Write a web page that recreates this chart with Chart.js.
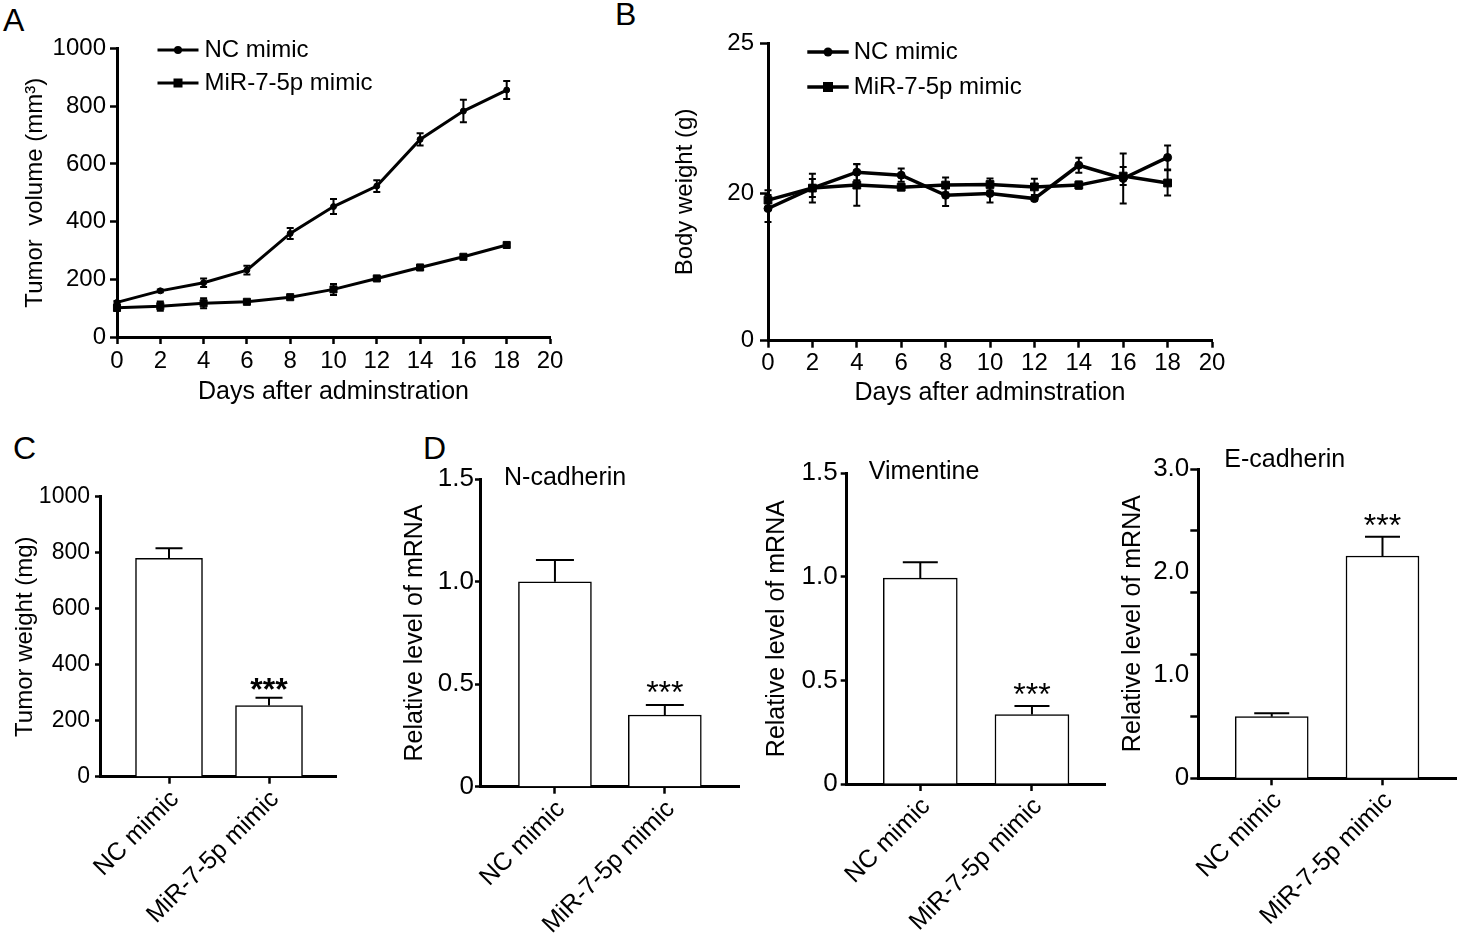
<!DOCTYPE html>
<html><head><meta charset="utf-8">
<script src="https://cdn.jsdelivr.net/npm/chart.js@4.4.1/dist/chart.umd.min.js"></script>
<style>
html,body{margin:0;padding:0;background:#fff;}
body{width:1459px;height:933px;position:relative;overflow:hidden;font-family:"Liberation Sans",Arial,sans-serif;}
.panel{position:absolute;}
.panel canvas{display:block;}
.letter{position:absolute;font-size:32px;line-height:32px;color:#000;}
</style></head><body>
<div class="letter" style="left:3px;top:4px">A</div>
<div class="letter" style="left:615px;top:-2px">B</div>
<div class="letter" style="left:13px;top:432px">C</div>
<div class="letter" style="left:423px;top:432px">D</div>

<div class="panel" style="left:0px;top:0px;width:580px;height:415px"><canvas id="cA" width="580" height="415"></canvas></div>
<div class="panel" style="left:600px;top:0px;width:640px;height:415px"><canvas id="cB" width="640" height="415"></canvas></div>
<div class="panel" style="left:0px;top:420px;width:370px;height:513px"><canvas id="cC" width="370" height="513"></canvas></div>
<div class="panel" style="left:375px;top:420px;width:380px;height:513px"><canvas id="cD1" width="380" height="513"></canvas></div>
<div class="panel" style="left:755px;top:420px;width:365px;height:513px"><canvas id="cD2" width="365" height="513"></canvas></div>
<div class="panel" style="left:1100px;top:420px;width:359px;height:513px"><canvas id="cD3" width="359" height="513"></canvas></div>

<script>
// ---------------- data ----------------
const days = [0, 2, 4, 6, 8, 10, 12, 14, 16, 18];
const seriesNames = ['NC mimic', 'MiR-7-5p mimic'];
const groups = ['NC mimic', 'MiR-7-5p mimic'];

// A: tumor volume (mm3)
const ncVolume     = [120, 160, 188, 232, 359, 452, 523, 685, 783, 856];
const ncVolumeErr  = [5, 5, 15, 15, 19, 26, 20, 21, 39, 31];
const mirVolume    = [101, 107, 117, 122, 138, 165, 203, 241, 278, 319];
const mirVolumeErr = [10, 16, 17, 5, 5, 19, 6, 6, 6, 6];
const volumeTicks  = [0, 200, 400, 600, 800, 1000];

// B: body weight (g)
const ncWeight     = [19.5, 20.18, 20.71, 20.61, 19.94, 20.0, 19.83, 20.94, 20.5, 21.2];
const ncWeightErr  = [0.45, 0.48, 0.27, 0.22, 0.36, 0.3, 0.06, 0.25, 0.83, 0.4];
const mirWeight    = [19.78, 20.18, 20.28, 20.21, 20.28, 20.3, 20.22, 20.28, 20.58, 20.35];
const mirWeightErr = [0.33, 0.3, 0.69, 0.1, 0.25, 0.2, 0.27, 0.12, 0.3, 0.42];
const weightTickValues = [15.1, 20, 25];
const weightTickLabels = ['0', '20', '25'];

// C: tumor weight (mg)
const tumorWeight    = [780, 254];
const tumorWeightErr = [36, 28];
const tumorWeightSig = ['', '***'];

// D: relative mRNA levels
const nCadherin     = [1.0, 0.35];
const nCadherinErr  = [0.106, 0.049];
const nCadherinSig  = ['', '***'];
const vimentin      = [0.994, 0.335];
const vimentinErr   = [0.076, 0.042];
const vimentinSig   = ['', '***'];
const eCadherin     = [0.598, 2.156];
const eCadherinErr  = [0.032, 0.188];
const eCadherinSig  = ['', '***'];
const mrnaTicks = [0, 0.5, 1.0, 1.5];
const eCadTickValues = [0, 0.6, 1.0, 1.2, 1.8, 2.0, 2.4, 3.0];
const eCadTickLabels = {0: '0', 1: '1.0', 2: '2.0', 3: '3.0'};
const eCadMarkedTicks = [0, 0.6, 1.2, 1.8, 2.4, 3.0];

// ---------------- rendering ----------------
const FONT = "'Liberation Sans', Arial, sans-serif";
const BLACK = '#000';

const figPlugin = {
  id: 'fig',
  afterDatasetsDraw(chart, args, o) {
    const ctx = chart.ctx, ca = chart.chartArea;
    const xs = chart.scales.x, ys = chart.scales.y;
    ctx.save();
    chart.data.datasets.forEach(ds => {
      if (!ds.errors) return;
      ds.data.forEach((p, i) => {
        const e = ds.errors[i];
        const x = xs.getPixelForValue(p.x);
        const yT = ys.getPixelForValue(p.y + e);
        const yM = ys.getPixelForValue(p.y);
        const yB = o.upOnly ? yM : ys.getPixelForValue(p.y - e);
        const c = o.cap / 2;
        ctx.strokeStyle = BLACK; ctx.lineWidth = o.errWidth;
        ctx.beginPath();
        ctx.moveTo(x, yB); ctx.lineTo(x, yT);
        ctx.moveTo(x - c, yT); ctx.lineTo(x + c, yT);
        if (!o.upOnly) { ctx.moveTo(x - c, yB); ctx.lineTo(x + c, yB); }
        ctx.stroke();
        if (ds.stars && ds.stars[i]) {
          ctx.fillStyle = BLACK; ctx.font = o.starFont;
          ctx.textAlign = 'center'; ctx.textBaseline = 'alphabetic';
          ctx.fillText(ds.stars[i], x, yT + o.starShift);
        }
      });
    });
    if (o.legend) {
      const L = o.legend;
      chart.data.datasets.forEach((ds, i) => {
        const y = ca.top + L.y + i * L.dy;
        const x0 = ca.left + L.x, x1 = x0 + L.len, xm = (x0 + x1) / 2;
        ctx.strokeStyle = BLACK; ctx.lineWidth = ds.borderWidth;
        ctx.beginPath(); ctx.moveTo(x0, y); ctx.lineTo(x1, y); ctx.stroke();
        ctx.fillStyle = BLACK;
        if (ds.pointStyle === 'rect') {
          const s = L.square; ctx.fillRect(xm - s / 2, y - s / 2, s, s);
        } else {
          ctx.beginPath(); ctx.arc(xm, y, L.circle, 0, Math.PI * 2); ctx.fill();
        }
        ctx.font = L.font; ctx.textAlign = 'left'; ctx.textBaseline = 'middle';
        ctx.fillText(ds.label, x1 + L.gap, y);
      });
    }
    if (o.title) {
      const T = o.title;
      ctx.fillStyle = BLACK; ctx.font = T.font; ctx.textAlign = 'left'; ctx.textBaseline = 'middle';
      ctx.fillText(T.text, ca.left + T.dx, ca.top + T.dy);
    }
    ctx.restore();
  }
};

function yAxis(o) {
  return {
    type: 'linear', position: 'left', min: o.min, max: o.max,
    border: { display: true, color: BLACK, width: 3 },
    grid: { display: true, drawOnChartArea: false, drawTicks: true, offset: false, tickLength: o.tl, tickWidth: 2.5, color: BLACK, tickColor: o.tickColor || BLACK },
    ticks: Object.assign({ color: BLACK, font: { family: FONT, size: o.fs }, padding: o.pad, callback: v => String(v) }, o.ticks || {}),
    afterBuildTicks: o.afterBuildTicks,
    title: { display: true, text: o.title, color: BLACK, font: { family: FONT, size: o.tfs }, padding: { top: o.tpad, bottom: 0 } },
    afterFit: s => { s.width = o.w; }
  };
}

function lineChart(id, o) {
  const mk = (name, vals, errs, style, radius) => ({
    label: name,
    data: days.map((d, i) => ({ x: d, y: vals[i] })),
    errors: errs,
    borderColor: BLACK, backgroundColor: BLACK, borderWidth: o.lw,
    pointStyle: style, pointRadius: radius, pointBackgroundColor: BLACK, pointBorderColor: BLACK, pointBorderWidth: 1,
    tension: 0, clip: false
  });
  return new Chart(document.getElementById(id), {
    type: 'line',
    data: { datasets: [
      mk(seriesNames[0], o.nc, o.ncErr, 'circle', o.cr),
      mk(seriesNames[1], o.mir, o.mirErr, 'rect', o.rr)
    ] },
    options: {
      responsive: false, animation: false, events: [],
      layout: { padding: { left: 0, top: o.top, right: o.right, bottom: 0 } },
      plugins: { legend: { display: false }, tooltip: { enabled: false },
        fig: { cap: 7, errWidth: 2, upOnly: false, legend: o.legend } },
      scales: {
        x: {
          type: 'linear', position: 'bottom', min: 0, max: 20,
          border: { display: true, color: BLACK, width: 3 },
          grid: { display: true, drawOnChartArea: false, drawTicks: true, offset: false, tickLength: 7, tickWidth: 2.5, color: BLACK },
          ticks: { stepSize: 2, maxRotation: 0, autoSkip: false, color: BLACK, font: { family: FONT, size: 24 }, padding: o.xpad, callback: v => String(v) },
          title: { display: true, text: 'Days after adminstration', color: BLACK, font: { family: FONT, size: 25 }, padding: { top: 0, bottom: o.xtpad } },
          afterFit: s => { s.height = o.xh; }
        },
        y: o.y
      }
    },
    plugins: [figPlugin]
  });
}

function barChart(id, o) {
  return new Chart(document.getElementById(id), {
    type: 'bar',
    data: { datasets: [{
      label: o.name,
      data: o.values.map((v, i) => ({ x: i + 1, y: v })),
      errors: o.errors, stars: o.stars,
      backgroundColor: '#fff', borderColor: BLACK, borderWidth: 1.5, borderSkipped: 'start',
      barThickness: o.barW
    }] },
    options: {
      responsive: false, animation: false, events: [],
      layout: { padding: { left: 0, top: o.top, right: o.right, bottom: 0 } },
      plugins: { legend: { display: false }, tooltip: { enabled: false },
        fig: { cap: o.cap, errWidth: 2, upOnly: true, starFont: o.starFont, starShift: o.starShift, title: o.title } },
      scales: {
        x: {
          type: 'linear', position: 'bottom', min: o.xMin, max: o.xMax, offset: false,
          border: { display: true, color: BLACK, width: 3 },
          grid: { display: true, drawOnChartArea: false, drawTicks: true, offset: false, tickLength: 7, tickWidth: 2.5, color: BLACK },
          afterBuildTicks: s => { s.ticks = groups.map((g, i) => ({ value: i + 1 })); },
          ticks: { autoSkip: false, minRotation: 45, maxRotation: 45, color: BLACK, font: { family: FONT, size: 25 },
            padding: 1, labelOffset: 6, callback: v => groups[v - 1] },
          afterFit: s => { s.height = o.xh; }
        },
        y: o.y
      }
    },
    plugins: [figPlugin]
  });
}

// Panel A
lineChart('cA', {
  nc: ncVolume, ncErr: ncVolumeErr, mir: mirVolume, mirErr: mirVolumeErr,
  lw: 3, cr: 3, rr: 5, top: 48.5, right: 30, xh: 78, xpad: 3, xtpad: 8,
  legend: { x: 40.5, y: 1.5, dy: 33, len: 41, gap: 6, font: '24px ' + FONT, circle: 4, square: 9 },
  y: yAxis({ min: 0, max: 1000, w: 117, tl: 7, pad: 4, fs: 24, title: 'Tumor  volume (mm³)', tfs: 24, tpad: 21,
    afterBuildTicks: s => { s.ticks = volumeTicks.map(v => ({ value: v })); } })
});

// Panel B
lineChart('cB', {
  nc: ncWeight, ncErr: ncWeightErr, mir: mirWeight, mirErr: mirWeightErr,
  lw: 3.5, cr: 4, rr: 5.5, top: 43.3, right: 28, xh: 74.3, xpad: 1.5, xtpad: 7,
  legend: { x: 39.3, y: 8.7, dy: 35, len: 41.4, gap: 5, font: '24px ' + FONT, circle: 4.5, square: 10 },
  y: yAxis({ min: weightTickValues[0], max: 25, w: 168, tl: 8, pad: 6, fs: 24, title: 'Body weight (g)', tfs: 24, tpad: 70.8,
    afterBuildTicks: s => { s.ticks = weightTickValues.map(v => ({ value: v })); },
    ticks: { callback: v => weightTickLabels[weightTickValues.indexOf(v)] } })
});

// Panel C
barChart('cC', {
  name: 'Tumor weight', values: tumorWeight, errors: tumorWeightErr, stars: tumorWeightSig,
  barW: 67, cap: 27, top: 76.7, right: 34, xh: 156.3, xMin: 0.31, xMax: 2.67,
  starFont: 'bold 32px ' + FONT, starShift: 2,
  y: yAxis({ min: 0, max: 1000, w: 100, tl: 5, pad: 5, fs: 23, title: 'Tumor weight (mg)', tfs: 24, tpad: 10.6,
    afterBuildTicks: s => { s.ticks = volumeTicks.map(v => ({ value: v })); } })
});

const fmt = v => v === 0 ? '0' : v.toFixed(1);

// Panel D1
barChart('cD1', {
  name: 'N-cadherin', values: nCadherin, errors: nCadherinErr, stars: nCadherinSig,
  barW: 73, cap: 38, top: 59.3, right: 16, xh: 146.3, xMin: 0.318, xMax: 2.675,
  starFont: '32px ' + FONT, starShift: -2,
  title: { text: 'N-cadherin', dx: 24, dy: -1, font: '25px ' + FONT },
  y: yAxis({ min: 0, max: 1.5, w: 105, tl: 5, pad: 1, fs: 26, title: 'Relative level of mRNA', tfs: 25, tpad: 25,
    afterBuildTicks: s => { s.ticks = mrnaTicks.map(v => ({ value: v })); }, ticks: { callback: fmt } })
});

// Panel D2
barChart('cD2', {
  name: 'Vimentine', values: vimentin, errors: vimentinErr, stars: vimentinSig,
  barW: 74, cap: 35, top: 53.3, right: 15, xh: 149, xMin: 0.341, xMax: 2.654,
  starFont: '32px ' + FONT, starShift: -1,
  title: { text: 'Vimentine', dx: 22, dy: -1, font: '25px ' + FONT },
  y: yAxis({ min: 0, max: 1.5, w: 91.7, tl: 6, pad: 3, fs: 26, title: 'Relative level of mRNA', tfs: 25, tpad: 6.7,
    afterBuildTicks: s => { s.ticks = mrnaTicks.map(v => ({ value: v })); }, ticks: { callback: fmt } })
});

// Panel D3
barChart('cD3', {
  name: 'E-cadherin', values: eCadherin, errors: eCadherinErr, stars: eCadherinSig,
  barW: 73, cap: 35, top: 49, right: 2.3, xh: 154.7, xMin: 0.337, xMax: 2.67,
  starFont: '32px ' + FONT, starShift: -1,
  title: { text: 'E-cadherin', dx: 26, dy: -9, font: '25px ' + FONT },
  y: yAxis({ min: 0, max: 3.0, w: 98.3, tl: 8, pad: 1, fs: 26, title: 'Relative level of mRNA', tfs: 25, tpad: 18.3,
    afterBuildTicks: s => { s.ticks = eCadTickValues.map(v => ({ value: v })); },
    tickColor: c => (c.tick && eCadMarkedTicks.indexOf(c.tick.value) < 0) ? 'rgba(0,0,0,0)' : BLACK,
    ticks: { callback: v => (eCadTickLabels[v] !== undefined ? eCadTickLabels[v] : '') } })
});
</script>
</body></html>
